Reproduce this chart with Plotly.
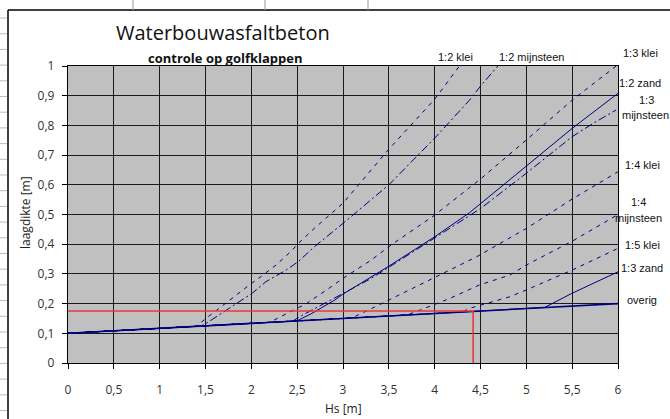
import plotly.graph_objects as go

NAVY = "#000080"

# ---- data ----
klei_12_x = [0, 1.40, 1.53, 1.67, 1.83, 1.98, 2.10, 2.27, 2.43, 2.52, 2.69, 3.0, 3.5, 4.0, 4.27]
klei_12_y = [0.10, 0.124, 0.156, 0.19, 0.229, 0.263, 0.29, 0.33, 0.375, 0.405, 0.454, 0.538, 0.72, 0.888, 1.0]

mijn_12_x = [0, 1.45, 1.51, 1.67, 1.83, 2.01, 2.16, 2.38, 2.51, 2.69, 3.0, 3.5, 4.0, 4.38, 4.51, 4.69]
mijn_12_y = [0.10, 0.124, 0.134, 0.167, 0.20, 0.235, 0.274, 0.313, 0.341, 0.392, 0.47, 0.60, 0.757, 0.885, 0.936, 1.0]

klei_13_x = [0, 2.2, 2.46, 2.6, 2.84, 3.0, 3.31, 3.5, 4.0, 4.38, 4.51, 5.0, 5.5, 5.98]
klei_13_y = [0.10, 0.137, 0.178, 0.20, 0.25, 0.285, 0.347, 0.392, 0.498, 0.588, 0.622, 0.751, 0.885, 1.0]

zand_12_x = [0, 2.5, 2.66, 2.91, 3.0, 3.5, 4.0, 4.17, 4.38, 5.0, 5.5, 6.0]
zand_12_y = [0.10, 0.142, 0.167, 0.212, 0.232, 0.326, 0.425, 0.462, 0.506, 0.663, 0.79, 0.908]

mijn_13_x = [0, 2.45, 2.55, 2.91, 3.28, 3.5, 4.0, 4.17, 4.5, 5.0, 5.5, 5.73, 5.98]
mijn_13_y = [0.10, 0.141, 0.16, 0.218, 0.28, 0.322, 0.42, 0.455, 0.52, 0.639, 0.762, 0.807, 0.852]

klei_14_x = [0, 3.1, 3.29, 3.5, 4.0, 4.165, 4.46, 5.0, 5.5, 6.0]
klei_14_y = [0.10, 0.152, 0.18, 0.212, 0.288, 0.313, 0.358, 0.453, 0.552, 0.644]

mijn_14_x = [0, 3.7, 3.84, 4.17, 4.49, 4.82, 5.0, 5.5, 6.0]
mijn_14_y = [0.10, 0.162, 0.178, 0.218, 0.263, 0.296, 0.33, 0.41, 0.50]

klei_15_x = [0, 4.3, 4.38, 4.82, 5.0, 5.5, 6.0]
klei_15_y = [0.10, 0.172, 0.184, 0.223, 0.246, 0.313, 0.386]

zand_13_x = [0, 5.2, 5.5, 6.0]
zand_13_y = [0.10, 0.187, 0.235, 0.307]

overig_x = [0, 6.0]
overig_y = [0.10, 0.20]

check_hs = 4.42
check_d = 0.175

x_ticks = [0, 0.5, 1, 1.5, 2, 2.5, 3, 3.5, 4, 4.5, 5, 5.5, 6]
y_ticks = [0, 0.1, 0.2, 0.3, 0.4, 0.5, 0.6, 0.7, 0.8, 0.9, 1]

series = [
    ("1:2 klei", klei_12_x, klei_12_y, "4px,5px", 1),
    ("1:2 mijnsteen", mijn_12_x, mijn_12_y, "8px,3px,2px,3px", 1),
    ("1:3 klei", klei_13_x, klei_13_y, "4px,5px", 1),
    ("1:2 zand", zand_12_x, zand_12_y, "solid", 1),
    ("1:3 mijnsteen", mijn_13_x, mijn_13_y, "8px,3px,2px,3px", 1),
    ("1:4 klei", klei_14_x, klei_14_y, "4px,5px", 1),
    ("1:4 mijnsteen", mijn_14_x, mijn_14_y, "4px,5px", 1),
    ("1:5 klei", klei_15_x, klei_15_y, "4px,5px", 1),
    ("1:3 zand", zand_13_x, zand_13_y, "solid", 1),
    ("overig", overig_x, overig_y, "solid", 1.6),
]

fig = go.Figure()
for name, xs, ys, dash, w in series:
    fig.add_trace(go.Scatter(x=xs, y=ys, mode="lines", name=name,
                             line=dict(color=NAVY, width=w, dash=dash),
                             showlegend=False, hoverinfo="skip"))

# red check lines
fig.add_trace(go.Scatter(x=[0, check_hs, check_hs], y=[check_d, check_d, 0], mode="lines",
                         line=dict(color="#E8383C", width=1.6), showlegend=False, hoverinfo="skip"))

L, R, T, B = 68, 52, 66, 56
PW, PH = 670 - L - R, 419 - T - B


def px(xp):
    return (xp - L) / PW


def py(yp):
    return (419 - B - yp) / PH


FONT = "Open Sans"
LBL = "Liberation Sans"
ann = []


def label(text, x, y, size=11, color="#111", bold=False, xanchor="center", fam=LBL, angle=0):
    ann.append(dict(text=("<b>%s</b>" % text) if bold else text, x=px(x), y=py(y), xref="paper", yref="paper",
                    showarrow=False, xanchor=xanchor, yanchor="middle",
                    font=dict(size=size, color=color, family=fam), textangle=angle))


label("Waterbouwasfaltbeton", 223, 33, size=20, fam="Open Sans")
label("controle op golfklappen", 225, 58, size=13, bold=True, fam="Open Sans")
label("1:2 klei", 455, 57)
label("1:2 mijnsteen", 531, 57)
label("1:3 klei", 640, 53)
label("1:2 zand", 640, 83)
label("1:3", 646, 100)
label("mijnsteen", 645, 115)
label("1:4 klei", 642, 165)
label("1:4", 638, 202)
label("mijnsteen", 638, 218)
label("1:5 klei", 642, 245)
label("1:3 zand", 642, 268)
label("overig", 642, 300)
label("Hs [m]", 343, 408, size=12, fam=FONT, color="#222")
label("laagdikte [m]", 25, 213, size=12, angle=-90, fam=FONT, color="#222")

shapes = []
# spreadsheet background lines
shapes.append(dict(type="line", xref="paper", yref="paper", x0=px(8), x1=px(670), y0=py(10), y1=py(10),
                   line=dict(color="#000", width=1.5)))
shapes.append(dict(type="line", xref="paper", yref="paper", x0=px(8), x1=px(8), y0=py(10), y1=py(419),
                   line=dict(color="#000", width=1.5)))
for xv in [133, 265, 368]:
    shapes.append(dict(type="line", xref="paper", yref="paper", x0=px(xv), x1=px(xv), y0=py(0), y1=py(10),
                       line=dict(color="#999", width=1)))
yv = 18
while yv < 419:
    shapes.append(dict(type="line", xref="paper", yref="paper", x0=px(0), x1=px(7), y0=py(yv), y1=py(yv),
                       line=dict(color="#bbb", width=1)))
    yv += 15.7

fig.update_layout(
    width=670, height=419,
    margin=dict(l=L, r=R, t=T, b=B, pad=0),
    paper_bgcolor="white", plot_bgcolor="#C0C0C0",
    separators=", ",
    font=dict(family=FONT, size=12, color="#222"),
    annotations=ann, shapes=shapes,
)
fig.update_xaxes(range=[0, 6], tickvals=x_ticks, ticks="outside", ticklen=5, tickcolor="#000",
                 showgrid=True, gridcolor="#1a1a1a", gridwidth=1.2, showline=True, linecolor="#000",
                 linewidth=1.3, mirror=True, zeroline=False, ticklabelstandoff=10,
                 tickfont=dict(size=12, color="#333"))
fig.update_yaxes(range=[0, 1], tickvals=y_ticks, ticks="outside", ticklen=5, tickcolor="#000",
                 showgrid=True, gridcolor="#1a1a1a", gridwidth=1.2, showline=True, linecolor="#000",
                 linewidth=1.3, mirror=True, zeroline=False, ticklabelstandoff=5,
                 tickfont=dict(size=12, color="#333"))

fig.write_html("out.html", config={"displayModeBar": False},
               post_script="document.body.style.margin='0';")
